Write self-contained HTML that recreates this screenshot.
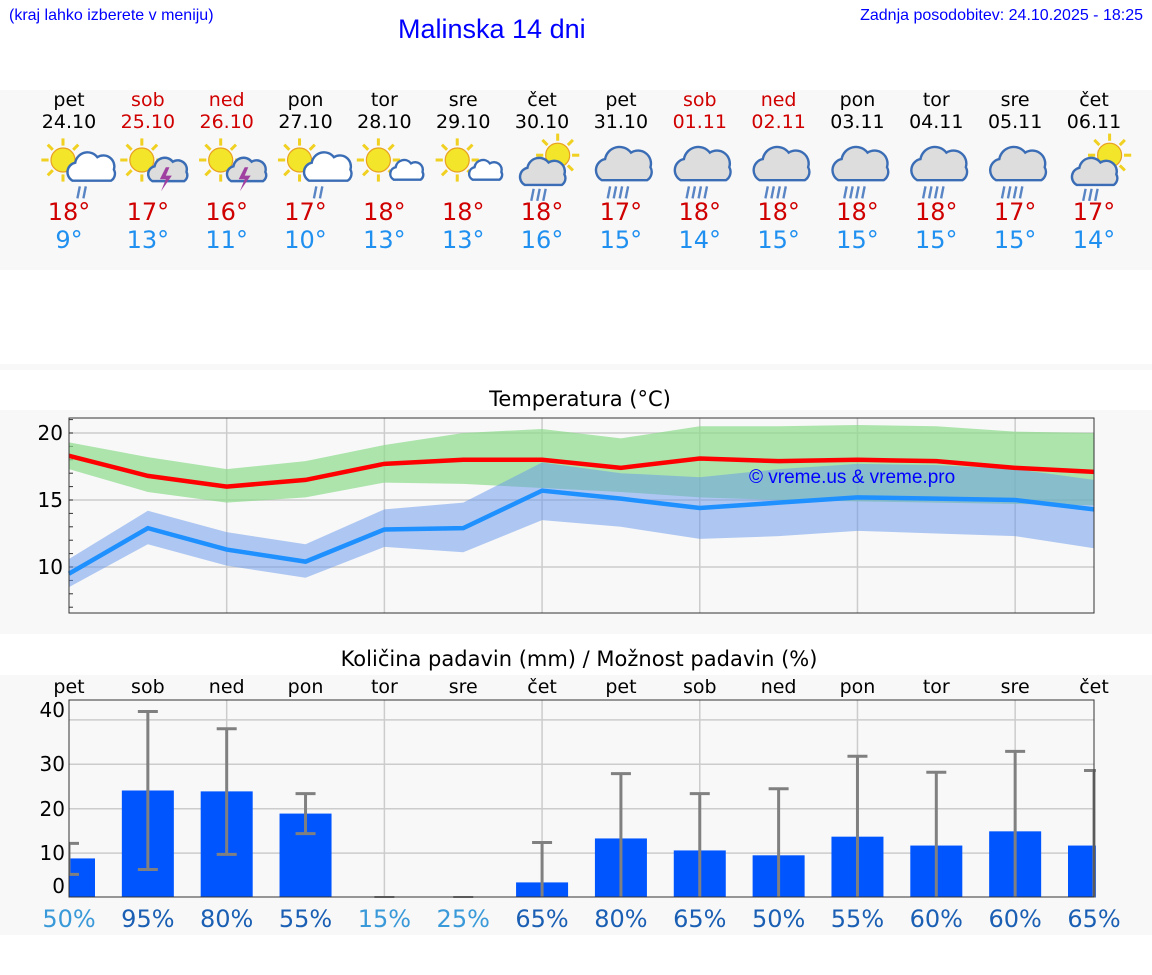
<!DOCTYPE html>
<html><head><meta charset="utf-8">
<style>
body{margin:0;width:1152px;height:975px;background:#fff;font-family:"DejaVu Sans","Liberation Sans",sans-serif;position:relative;overflow:hidden}
.a{position:absolute}
.bg{position:absolute;left:0;width:1152px;background:#f8f8f8}
.c{position:absolute;text-align:center;width:80px;white-space:nowrap}
</style></head><body>
<div class="a" style="left:9px;top:7px;font-size:16px;color:#00f;font-family:'Liberation Sans',sans-serif">(kraj lahko izberete v meniju)</div>
<div class="a" style="left:398px;top:14px;font-size:27px;color:#00f;font-family:'Liberation Sans',sans-serif">Malinska 14 dni</div>
<div class="a" style="right:9px;top:7px;font-size:16px;color:#00f;font-family:'Liberation Sans',sans-serif">Zadnja posodobitev: 24.10.2025 - 18:25</div>
<div class="bg" style="top:90px;height:180px"></div>
<div class="bg" style="top:364px;height:6px"></div>
<div class="bg" style="top:410px;height:224px"></div>
<div class="bg" style="top:675px;height:260px"></div>
<div class="a" style="left:0;width:1160px;text-align:center;top:387px;font-size:21px">Temperatura (°C)</div>
<div class="a" style="left:0;width:1158px;text-align:center;top:647px;font-size:21px">Količina padavin (mm) / Možnost padavin (%)</div>
<div id="topstrip"></div>
<svg id="ch" class="a" style="left:0;top:0" width="1152" height="975"></svg>
<div class="a" style="left:749px;top:467px;font-size:19px;color:#00f;font-family:'Liberation Sans',sans-serif">© vreme.us &amp; vreme.pro</div>
<script>
const days=["pet","sob","ned","pon","tor","sre","čet","pet","sob","ned","pon","tor","sre","čet"];
const dates=["24.10","25.10","26.10","27.10","28.10","29.10","30.10","31.10","01.11","02.11","03.11","04.11","05.11","06.11"];
const weekend=[0,1,1,0,0,0,0,0,1,1,0,0,0,0];
const icons=["sunrain","sunstorm","sunstorm","sunrain","sun","sun","cloudsun","rain","rain","rain","rain","rain","rain","cloudsun"];
const maxT=[18,17,16,17,18,18,18,17,18,18,18,18,17,17];
const minT=[9,13,11,10,13,13,16,15,14,15,15,15,15,14];
const maxLine=[18.3,16.8,16.0,16.5,17.7,18.0,18.0,17.4,18.1,17.9,18.0,17.9,17.4,17.1];
const maxHi=[19.3,18.2,17.3,17.9,19.1,20.0,20.3,19.6,20.5,20.5,20.6,20.5,20.1,20.0];
const maxLo=[17.3,15.6,14.8,15.2,16.3,16.2,15.9,15.6,15.2,15.0,14.9,14.8,14.7,14.6];
const minLine=[9.5,12.9,11.3,10.4,12.8,12.9,15.7,15.1,14.4,14.8,15.2,15.1,15.0,14.3];
const minHi=[10.6,14.2,12.6,11.7,14.3,14.8,17.8,17.0,16.7,17.3,17.7,17.6,17.3,16.5];
const minLo=[8.5,11.7,10.1,9.2,11.5,11.1,13.5,13.0,12.1,12.3,12.7,12.5,12.3,11.4];
const tTicks=[10,15,20];
const precip=[8.8,24.1,23.9,18.9,0,0,3.4,13.3,10.6,9.5,13.7,11.7,14.9,11.7];
const errHi=[12.2,41.9,38.0,23.4,0,0,12.4,27.9,23.4,24.5,31.8,28.2,32.9,28.6];
const errLo=[5.2,6.3,9.7,14.4,0,0,0,0,0,0,0,0,0,0];
const prob=[50,95,80,55,15,25,65,80,65,50,55,60,60,65];
const probLight=[1,0,0,0,1,1,0,0,0,0,0,0,0,0];
const pTicks=[0,10,20,30,40];
const NS="http://www.w3.org/2000/svg";
const x0=69,x1=1094,step=(x1-x0)/13;
const X=i=>x0+i*step;
const Ty=v=>567-(v-10)*13.4;
const Py=v=>897.5-v*4.44;
const svg=document.getElementById('ch');
function el(t,a,p){const e=document.createElementNS(NS,t);for(const k in a)e.setAttribute(k,a[k]);(p||svg).appendChild(e);return e;}
const strip=document.getElementById('topstrip');
function cloudPath(cx,cy,s){
 return `M${cx-14*s},${cy+8*s} a${7*s} ${7*s} 0 0 1 ${2*s},${-13*s} a${9*s} ${9*s} 0 0 1 ${16*s},${-4*s} a${8*s} ${8*s} 0 0 1 ${12*s},${9*s} a${6*s} ${6*s} 0 0 1 ${-2*s},${8*s} z`;
}
function icon(type,cx){
 const g=el('g',{transform:`translate(${cx-30},136) scale(1.2)`});
 
 
 const sun=(sx,sy,r)=>{for(let k=0;k<8;k++){const a=k*Math.PI/4;el('line',{x1:sx+Math.cos(a)*(r+2),y1:sy+Math.sin(a)*(r+2),x2:sx+Math.cos(a)*(r+8),y2:sy+Math.sin(a)*(r+8),stroke:'#f0d020','stroke-width':2.5},g);}el('circle',{cx:sx,cy:sy,r:r,fill:'#f3e52a',stroke:'#e8a020','stroke-width':1},g);};
 const cloud=(x,y,s,fill)=>el('path',{d:cloudPath(x,y,s),fill:fill,stroke:'#3a6db5','stroke-width':2},g);
 const rain=(rx,ry,n)=>{for(let k=0;k<n;k++)el('line',{x1:rx+k*5+2,y1:ry,x2:rx+k*5,y2:ry+10,stroke:'#5a85c5','stroke-width':2},g);};
 if(type=='sunrain'){sun(20,20,10);cloud(44,28,1.15,'#fff');rain(32,42,2);}
 if(type=='sunstorm'){sun(20,20,10);cloud(42,30,0.95,'#ddd');el('path',{d:'M40,26 l-5,10 h5 l-4,10 l9,-13 h-5 l3,-7z',fill:'#a040a0'},g);}
 if(type=='sun'){sun(20,20,10);cloud(44,30,0.8,'#fff');}
 if(type=='cloudsun'){sun(38,16,10);cloud(26,32,1.1,'#ddd');rain(16,44,3);}
 if(type=='rain'){cloud(28,26,1.35,'#ddd');rain(14,42,4);}
}
days.forEach((d,i)=>{
 const cx=X(i);
 const c=weekend[i]?'#d00000':'#000';
 const a=document.createElement('div');a.className='c';a.style.left=(cx-40)+'px';a.style.top='89px';a.style.fontSize='19px';a.style.color=c;a.style.lineHeight='22px';a.innerHTML=d+'<br>'+dates[i];
 
 
 strip.appendChild(a);
 icon(icons[i],cx);
 const m=document.createElement('div');m.className='c';m.style.left=(cx-40)+'px';m.style.top='198px';m.style.fontSize='24px';m.style.lineHeight='28px';m.innerHTML='<span style="color:#d00000">'+maxT[i]+'°</span><br><span style="color:#2090f0">'+minT[i]+'°</span>';
 
 
 strip.appendChild(m);
});
// temperature chart
el('rect',{x:x0,y:418,width:x1-x0,height:195,fill:'#f8f8f8',stroke:'#333','stroke-width':1});
[2,4,6,8,10,12].forEach(i=>el('line',{x1:X(i),y1:418,x2:X(i),y2:613,stroke:'#ccc','stroke-width':1.5}));
tTicks.forEach(t=>{el('line',{x1:x0,y1:Ty(t),x2:x1,y2:Ty(t),stroke:'#ccc','stroke-width':1.5});const tx=el('text',{x:63,y:Ty(t)+7,'text-anchor':'end','font-size':20});tx.textContent=t;});
for(let v=7;v<=21;v++)el('line',{x1:x0,y1:Ty(v),x2:x0+4,y2:Ty(v),stroke:'#333'});
function band(hi,lo,fill,name){let d='M'+hi.map((v,i)=>X(i)+','+Ty(v)).join('L')+'L'+lo.map((v,i)=>X(i)+','+Ty(v)).reverse().join('L')+'Z';const p=el('path',{d:d,fill:fill});}
function line(vs,col,name){const p=el('polyline',{points:vs.map((v,i)=>X(i)+','+Ty(v)).join(' '),fill:'none',stroke:col,'stroke-width':4.5});}
band(maxHi,maxLo,'rgba(140,220,140,0.7)','max-temp-band');
band(minHi,minLo,'rgba(100,150,235,0.5)','min-temp-band');
line(maxLine,'#ff0000','max-temp-line');
line(minLine,'#1e90ff','min-temp-line');
el('rect',{x:x0,y:418,width:x1-x0,height:195,fill:'none',stroke:'#333','stroke-width':1});
// precip chart
el('rect',{x:x0,y:700,width:x1-x0,height:197,fill:'#f8f8f8',stroke:'#333','stroke-width':1});
[2,4,6,8,10,12].forEach(i=>el('line',{x1:X(i),y1:700,x2:X(i),y2:897,stroke:'#ccc','stroke-width':1.5}));
const pl={0:886,10:853,20:809,30:764,40:710};
pTicks.forEach(t=>{if(t>0)el('line',{x1:x0,y1:Py(t),x2:x1,y2:Py(t),stroke:'#ccc','stroke-width':1.5});const tx=el('text',{x:65,y:pl[t]+7,'text-anchor':'end','font-size':20});tx.textContent=t;});
const clip=el('clipPath',{id:'pc'});el('rect',{x:x0,y:690,width:x1-x0+2,height:208},clip);
const pg=el('g',{'clip-path':'url(#pc)'});
precip.forEach((v,i)=>{
 if(v>0){const r=el('rect',{x:X(i)-26,y:Py(v),width:52,height:Py(0)-Py(v),fill:'#0055ff'},pg);}
 const e=el('g',{},pg);
 el('line',{x1:X(i),y1:Py(errHi[i]),x2:X(i),y2:Py(errLo[i]),stroke:'#808080','stroke-width':3},e);
 el('line',{x1:X(i)-10,y1:Py(errHi[i]),x2:X(i)+10,y2:Py(errHi[i]),stroke:'#808080','stroke-width':3},e);
 if(errLo[i]>0)el('line',{x1:X(i)-10,y1:Py(errLo[i]),x2:X(i)+10,y2:Py(errLo[i]),stroke:'#808080','stroke-width':3},e);
});
el('rect',{x:x0,y:700,width:x1-x0,height:197,fill:'none',stroke:'#333','stroke-width':1});
days.forEach((d,i)=>{
 const t=el('text',{x:X(i),y:693,'text-anchor':'middle','font-size':19});t.textContent=d;
 
 
 const p=el('text',{x:X(i),y:927,'text-anchor':'middle','font-size':24,fill:probLight[i]?'#3a9ad9':'#1a5fb4'});p.textContent=prob[i]+'%';
 
 
});
</script>
</body></html>
